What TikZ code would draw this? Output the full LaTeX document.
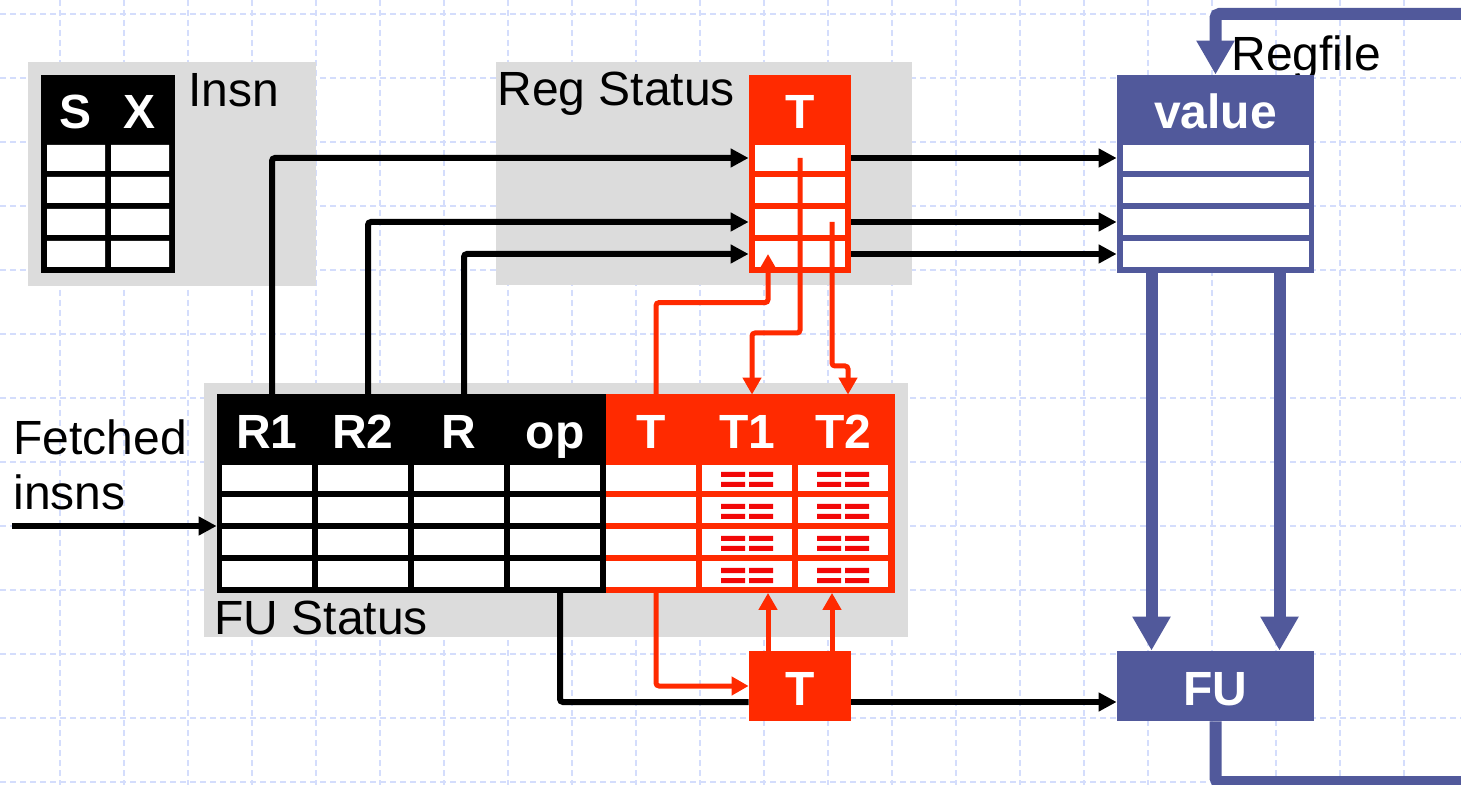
\documentclass[tikz,border=0pt]{standalone}
\usepackage{fontspec}
\setmainfont{Liberation Sans}
\usetikzlibrary{arrows.meta}

\definecolor{tred}{RGB}{255,42,0}
\definecolor{mred}{RGB}{242,8,8}
\definecolor{rfblue}{RGB}{81,89,155}
\definecolor{pgray}{RGB}{220,220,220}
\definecolor{gblue}{RGB}{212,221,252}

\tikzset{
  gridline/.style={gblue, line width=0.8pt, dash pattern=on 3pt off 2pt},
  panel/.style={fill=pgray},
  lbl/.style={inner sep=0pt, font=\fontsize{24}{28}\selectfont},
  tblbox/.style={inner sep=0pt, minimum height=99pt},
  hdrcell/.style={inner sep=0pt, text height=27pt, text depth=8pt, minimum width=45pt,
    text=white, font=\bfseries\fontsize{24}{24}\selectfont},
  rowcell/.style={fill=white, inner sep=0pt, minimum height=13pt},
  blkwire/.style={line width=3pt, rounded corners=1.5pt},
  blkarrow/.style={blkwire, -{Triangle[length=9pt,width=9pt]}},
  redarrow/.style={tred, line width=2.5pt, rounded corners=1.5pt, -{Triangle[length=8.5pt,width=9pt]}},
  bluearrow/.style={rfblue, line width=6pt, rounded corners=2pt, -{Triangle[length=17pt,width=18pt]}}
}

\begin{document}
\begin{tikzpicture}[x=0.5pt,y=-0.5pt]
\useasboundingbox (0,0) rectangle (1461,785);
\clip (0,0) rectangle (1461,785);
\fill[white] (0,0) rectangle (1461,785);
\foreach \gx in {60,124,...,1460}
  \draw[gridline] (\gx,0) -- (\gx,785);
\foreach \gy in {14,78,...,785}
  \draw[gridline] (0,\gy) -- (1461,\gy);

\fill[panel] (28,62) rectangle (316,286);
\fill[panel] (496,62) rectangle (912,285);
\fill[panel] (204,383) rectangle (908,637);

\node[lbl, anchor=base west] (insnlbl) at (188,107) {Insn};
\node[lbl, anchor=base west] (reglbl) at (497,106) {Reg Status};
\node[lbl, anchor=base west] (fulbl) at (214,634) {FU Status};
\node[lbl, anchor=base west] (rflbl) at (1231,71) {Regfile};
\node[lbl, anchor=base west, align=left] (fetchlbl) at (13,510) {Fetched\\insns};

\node[tblbox, fill=black, minimum width=67pt] (insntab) at (108,174) {};
\node[hdrcell, minimum width=29pt] (hS) at (76,110) {S};
\node[hdrcell, minimum width=29pt] (hX) at (140,110) {X};
\foreach \k in {0,...,3}
  \fill[white] (47,{145+32*\k}) rectangle (105,{171+32*\k})
               (111,{145+32*\k}) rectangle (169,{171+32*\k});

\node[tblbox, fill=tred, minimum width=51pt] (regtab) at (800,174) {};
\node[hdrcell] (hTr) at (800,110) {T};
\foreach \k in {1,...,4}
  \node[rowcell, minimum width=45pt] (rs\k) at (800,{126+32*\k}) {};

\node[tblbox, fill=rfblue, minimum width=98.5pt] (valtab) at (1215.5,174) {};
\node[hdrcell, minimum width=93pt] (hval) at (1215.5,110) {value};
\foreach \k in {1,...,4}
  \node[rowcell, minimum width=93pt] (v\k) at (1215.5,{126+32*\k}) {};

\node[tblbox, fill=black, minimum width=194.5pt] (fustab) at (411.5,493.5) {};
\node[tblbox, fill=tred, minimum width=144.5pt] (fusred) at (750.5,493.5) {};
\foreach \n/\t [count=\c from 0] in {hR1/R1, hR2/R2, hR/R, hop/op, hTf/T, hT1/T1, hT2/T2}
  \node[hdrcell] (\n) at ({267+96*\c},430) {\t};
\foreach \c in {0,...,6}
  \foreach \k in {0,...,3}
    \fill[white] ({222+96*\c},{465+32*\k}) rectangle ++(90,26);
\foreach \c in {747,843}
  \foreach \k in {0,...,3}
    \fill[mred] ({\c-26},{472+32*\k}) rectangle ++(24,5) ({\c+2},{472+32*\k}) rectangle ++(24,5)
                ({\c-26},{482+32*\k}) rectangle ++(24,5) ({\c+2},{482+32*\k}) rectangle ++(24,5);

\node[hdrcell, fill=tred, minimum width=51pt] (tbox) at (800,686) {T};
\node[hdrcell, fill=rfblue, minimum width=98.5pt] (fu) at (1215.5,686) {FU};

\coordinate (fetchsrc) at (12,526);
\draw[blkarrow] (fetchsrc) -- (fetchsrc -| fustab.west);
\draw[blkarrow] ([xshift=2.5pt]hR1.north) |- (rs1 -| regtab.west);
\draw[blkarrow] ([xshift=2.5pt]hR2.north) |- (rs3 -| regtab.west);
\draw[blkarrow] ([xshift=2.5pt]hR.north) |- (rs4 -| regtab.west);
\foreach \k in {1,3,4}
  \draw[blkarrow] (rs\k -| regtab.east) -- (v\k -| valtab.west);
\draw[blkwire] ([xshift=2.5pt]hop.north |- fustab.south) |- ([yshift=-8pt]tbox.west);
\draw[blkarrow] ([yshift=-8pt]tbox.east) -- ([yshift=-8pt]fu.west);

\draw[redarrow] ([xshift=2.5pt]hTf.north) -- ++(0,-92) -| ([xshift=-16pt]rs4.center);
\draw[redarrow] (rs1.center) -- ++(0,175) -| ([xshift=2.5pt]hT1.north);
\draw[redarrow] ([xshift=16pt]rs3.center) -- ++(0,144) -| ([xshift=2.5pt]hT2.north);
\draw[redarrow] ([xshift=2.5pt]hTf.north |- fusred.south) |- (tbox.west);
\draw[redarrow] ([xshift=-16pt]tbox.north) -- ([xshift=-16pt]tbox.north |- fusred.south);
\draw[redarrow] ([xshift=16pt]tbox.north) -- ([xshift=16pt]tbox.north |- fusred.south);

\draw[bluearrow] ([xshift=-32pt]valtab.south) -- ([xshift=-32pt]fu.north);
\draw[bluearrow] ([xshift=32pt]valtab.south) -- ([xshift=32pt]fu.north);
\coordinate (loopbot) at (1500,782);
\coordinate (looptop) at (1500,14);
\draw[bluearrow] (fu.south) |- (loopbot) -- (looptop) -| (valtab.north);
\end{tikzpicture}
\end{document}
